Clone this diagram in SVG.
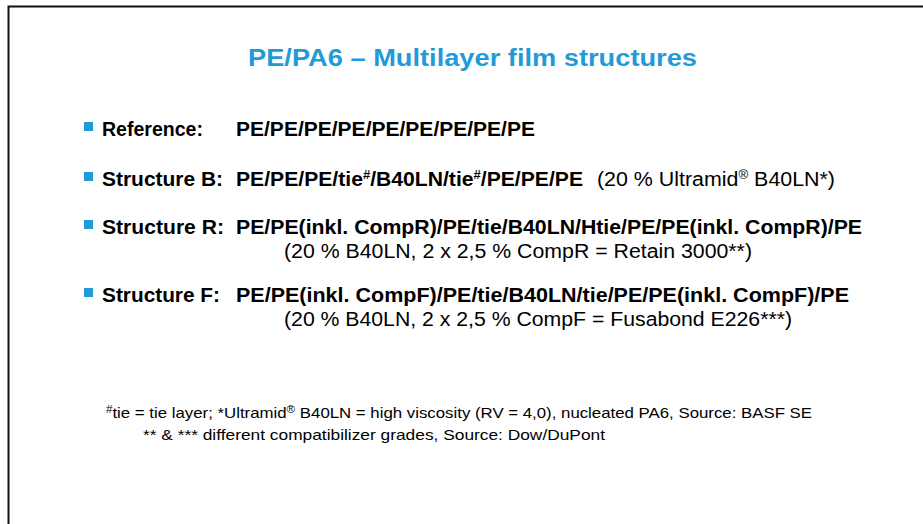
<svg xmlns="http://www.w3.org/2000/svg" width="923" height="524" viewBox="0 0 923 524">
<style>
.t{font-family:"Liberation Sans",Arial,sans-serif;fill:#000}
.title{font-family:"Liberation Sans",Arial,sans-serif;font-weight:bold;font-size:23px;fill:#1f9bd7}
.b{font-weight:bold;font-size:19.5px}
.r{font-size:19.5px}
.fn{font-size:14.5px}
.bul{fill:#1f9bd7}
</style>
<rect x="0" y="0" width="923" height="524" fill="#fff"/>
<path d="M8.5 530 V6.5 H930" fill="none" stroke="#111" stroke-width="2"/>
<g id="title"><text class="title" x="248" y="66" textLength="449" lengthAdjust="spacingAndGlyphs">PE/PA6 – Multilayer film structures</text></g>
<g id="row-reference">
<rect class="bul" x="84" y="122" width="9" height="9"/>
<text class="t b" x="102" y="136" textLength="101" lengthAdjust="spacingAndGlyphs">Reference:</text>
<text class="t b" x="236" y="136" textLength="299" lengthAdjust="spacingAndGlyphs">PE/PE/PE/PE/PE/PE/PE/PE/PE</text>
</g>
<g id="row-b">
<rect class="bul" x="84" y="172" width="9" height="9"/>
<text class="t b" x="102" y="186" textLength="121" lengthAdjust="spacingAndGlyphs">Structure B:</text>
<text class="t b" x="236" y="186" textLength="347" lengthAdjust="spacingAndGlyphs">PE/PE/PE/tie<tspan font-size="12" dy="-7">#</tspan><tspan dy="7">/B40LN/tie</tspan><tspan font-size="12" dy="-7">#</tspan><tspan dy="7">/PE/PE/PE</tspan></text>
<text class="t r" x="597" y="186" textLength="238" lengthAdjust="spacingAndGlyphs">(20 % Ultramid<tspan font-size="12" dy="-7">®</tspan><tspan dy="7"> B40LN*)</tspan></text>
</g>
<g id="row-r">
<rect class="bul" x="84" y="220" width="9" height="9"/>
<text class="t b" x="102" y="234" textLength="122" lengthAdjust="spacingAndGlyphs">Structure R:</text>
<text class="t b" x="236" y="234" textLength="626" lengthAdjust="spacingAndGlyphs">PE/PE(inkl. CompR)/PE/tie/B40LN/Htie/PE/PE(inkl. CompR)/PE</text>
<text class="t r" x="284" y="258" textLength="468" lengthAdjust="spacingAndGlyphs">(20 % B40LN, 2 x 2,5 % CompR = Retain 3000**)</text>
</g>
<g id="row-f">
<rect class="bul" x="84" y="288" width="9" height="9"/>
<text class="t b" x="102" y="302" textLength="118" lengthAdjust="spacingAndGlyphs">Structure F:</text>
<text class="t b" x="236" y="302" textLength="613" lengthAdjust="spacingAndGlyphs">PE/PE(inkl. CompF)/PE/tie/B40LN/tie/PE/PE(inkl. CompF)/PE</text>
<text class="t r" x="284" y="326" textLength="508" lengthAdjust="spacingAndGlyphs">(20 % B40LN, 2 x 2,5 % CompF = Fusabond E226***)</text>
</g>
<g id="footnotes">
<text class="t fn" x="106" y="418" textLength="706" lengthAdjust="spacingAndGlyphs"><tspan font-size="10" dy="-5">#</tspan><tspan dy="5">tie = tie layer; *Ultramid</tspan><tspan font-size="10" dy="-5">®</tspan><tspan dy="5"> B40LN = high viscosity (RV = 4,0), nucleated PA6, Source: BASF SE</tspan></text>
<text class="t fn" x="143" y="440" textLength="462" lengthAdjust="spacingAndGlyphs">** &amp; *** different compatibilizer grades, Source: Dow/DuPont</text>
</g>
</svg>
